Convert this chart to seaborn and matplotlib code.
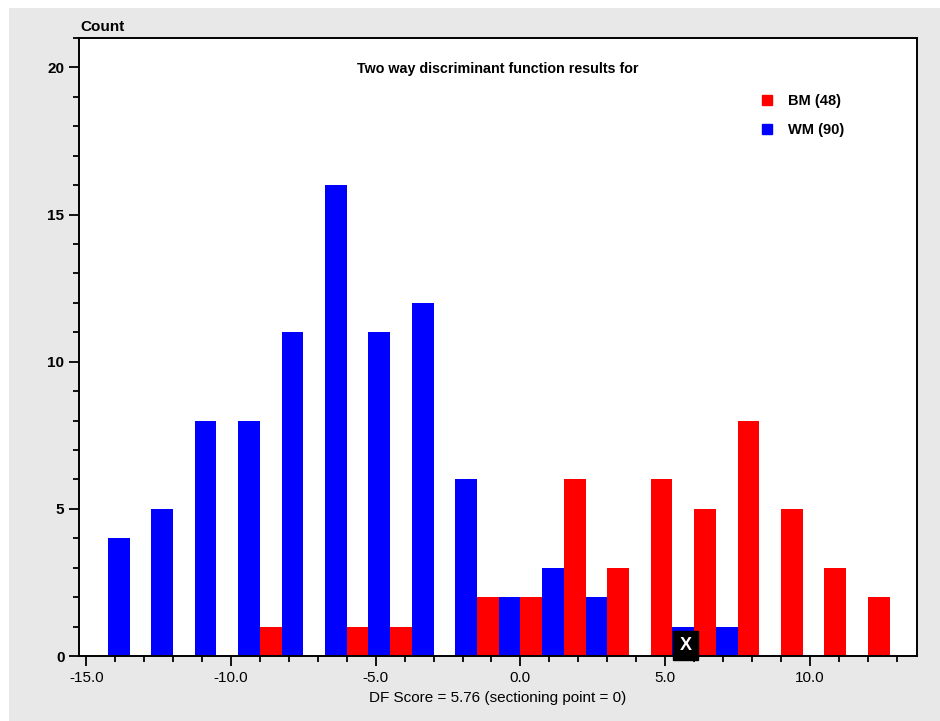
import pandas as pd
import matplotlib.pyplot as plt
import seaborn as sns
from matplotlib.patches import Rectangle
from matplotlib.lines import Line2D
from matplotlib.ticker import MultipleLocator, FormatStrFormatter

# --- data --- #
bin_centers = [-13.5, -12.0, -10.5, -9.0, -7.5, -6.0, -4.5, -3.0, -1.5,
               0.0, 1.5, 3.0, 4.5, 6.0, 7.5, 9.0, 10.5, 12.0]
wm_counts = [4, 5, 8, 8, 11, 16, 11, 12, 6, 2, 3, 2, 0, 1, 1, 0, 0, 0]
bm_counts = [0, 0, 0, 1, 0, 1, 1, 0, 2, 2, 6, 3, 6, 5, 8, 5, 3, 2]
groups = ["WM", "BM"]
legend_labels = ["BM (48)", "WM (90)"]
df_score = 5.76

# --- long table for seaborn --- #
df = pd.DataFrame({
    "score": bin_centers * 2,
    "count": wm_counts + bm_counts,
    "group": ["WM"] * len(bin_centers) + ["BM"] * len(bin_centers),
})
palette = {"WM": "#0000ff", "BM": "#ff0000"}

sns.set_style("white")
plt.rcParams["font.family"] = ["Liberation Sans", "DejaVu Sans"]
plt.rcParams["text.color"] = "black"
plt.rcParams["axes.labelcolor"] = "black"
plt.rcParams["xtick.color"] = "black"
plt.rcParams["ytick.color"] = "black"

fig = plt.figure(figsize=(9.4, 7.21), dpi=100, facecolor="white")
# grey panel behind the plot
fig.patches.append(Rectangle((9 / 940, 0), 1, 1 - 8 / 721, transform=fig.transFigure,
                             facecolor="#e8e8e8", edgecolor="none", zorder=-10))
ax = fig.add_axes([79 / 940, 1 - 656 / 721, 838 / 940, 618 / 721])
ax.set_facecolor("white")

sns.histplot(data=df, x="score", weights="count", hue="group", hue_order=groups,
             palette=palette, binwidth=1.5, binrange=(-14.25, 12.75),
             multiple="dodge", shrink=1, alpha=1, linewidth=0, legend=False, ax=ax)

ax.set_xlim(-15.25, 13.7)
ax.set_ylim(0, 21)

# --- axes / ticks --- #
for side in ["left", "right", "top", "bottom"]:
    ax.spines[side].set_visible(True)
    ax.spines[side].set_color("black")
    ax.spines[side].set_linewidth(1.4)

ax.xaxis.set_major_locator(MultipleLocator(5))
ax.xaxis.set_minor_locator(MultipleLocator(1))
ax.xaxis.set_major_formatter(FormatStrFormatter("%.1f"))
ax.yaxis.set_major_locator(MultipleLocator(5))
ax.yaxis.set_minor_locator(MultipleLocator(1))
ax.tick_params(which="major", direction="out", length=7, width=1.3, color="black",
               bottom=True, left=True, top=False, right=False, labelsize=11)
ax.tick_params(which="minor", direction="out", length=4.3, width=1.3, color="black",
               bottom=True, left=True, top=False, right=False)
ax.tick_params(axis="x", pad=4)
for lab in ax.get_yticklabels():
    lab.set_fontweight("bold")

ax.set_ylabel("")
ax.set_xlabel("DF Score = 5.76 (sectioning point = 0)", fontsize=11, labelpad=4)
ax.text(0.002, 1.006, "Count", transform=ax.transAxes, ha="left", va="bottom",
        fontsize=11, fontweight="bold")
ax.text(0.5, 0.95, "Two way discriminant function results for", transform=ax.transAxes,
        ha="center", va="center", fontsize=10.3, fontweight="bold")

# --- legend --- #
handles = [Line2D([], [], marker="s", linestyle="none", markersize=7,
                  markerfacecolor=palette[g], markeredgecolor=palette[g])
           for g in ["BM", "WM"]]
leg = ax.legend(handles, legend_labels, loc="upper left", bbox_to_anchor=(0.797, 0.93),
                frameon=False, handletextpad=0.9, labelspacing=1.0, fontsize=10.5,
                handlelength=1.0)
for t in leg.get_texts():
    t.set_fontweight("bold")

# --- section marker --- #
ax.text(df_score - 0.05, 0.07, "X", color="white", fontsize=13, fontweight="bold",
        ha="center", va="bottom", zorder=5,
        bbox=dict(boxstyle="square,pad=0.35", facecolor="black", edgecolor="black"))

fig.savefig("out.png", dpi=100, facecolor=fig.get_facecolor())
